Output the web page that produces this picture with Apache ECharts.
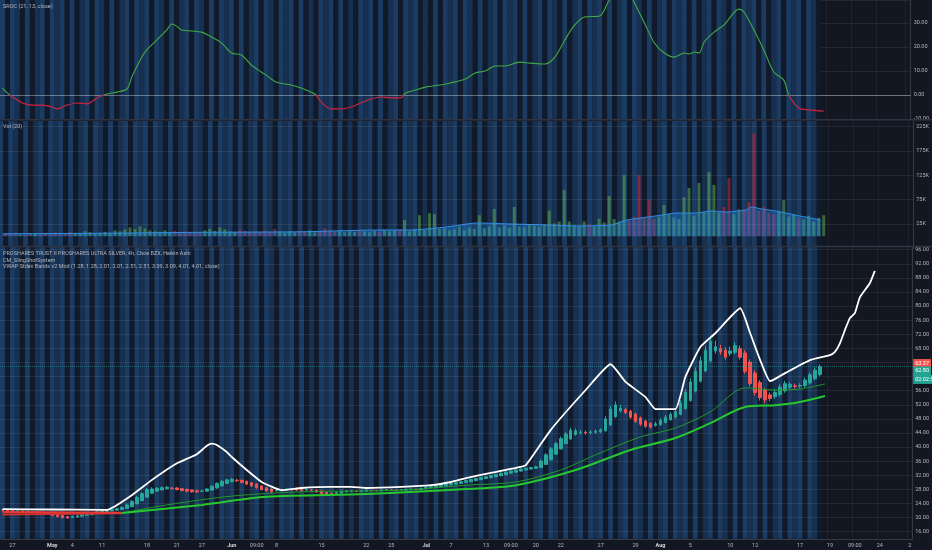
<!DOCTYPE html>
<html><head><meta charset="utf-8">
<script src="https://cdn.jsdelivr.net/npm/echarts@6/dist/echarts.min.js"></script>
<style>html,body{margin:0;padding:0;background:#131722}#c{width:932px;height:550px}</style>
</head><body><div id="c"></div>
<script>
// ---------- DATA ----------
const nCats = 183;             // bars incl. future space
const xLabels = [[2,'27'],[10,'May'],[14,'4'],[20,'11'],[29,'18'],[35,'21'],[40,'27'],[46,'Jun'],[51,'09:00'],[55,'8'],[64,'15'],[73,'22'],[78,'25'],[85,'Jul'],[90,'7'],[97,'13'],[102,'09:00'],[107,'20'],[112,'22'],[120,'27'],[127,'29'],[132,'Aug'],[138,'5'],[146,'10'],[151,'12'],[160,'17'],[166,'19'],[171,'09:00'],[176,'24'],[182,'2']];
const monthLabels = ['May','Jun','Jul','Aug'];
const priceTicks = [16,20,24,28,32,36,40,44,48,52,56,60,64,68,72,76,80,84,88,92,96];
const volTicks = [25,75,125,175,225];

// Heikin Ashi candles [open, close, low, high]
const candles = [
[22.1,22.0,21.8,22.3],[22.1,21.9,21.7,22.2],[22.0,21.8,21.6,22.1],[21.9,21.9,21.7,22.1],[21.9,21.7,21.5,22.0],
[21.8,21.6,21.4,21.9],[21.7,21.7,21.5,21.9],[21.7,21.5,21.3,21.8],[21.6,21.4,21.2,21.7],[21.5,21.0,20.8,21.6],
[21.3,20.6,20.4,21.4],[21.0,20.3,20.1,21.1],[20.6,20.0,19.8,20.7],[20.3,19.9,19.7,20.4],[20.1,20.3,19.9,20.5],
[20.2,20.5,20.0,20.7],[20.4,20.8,20.2,21.0],[20.6,21.1,20.5,21.3],[20.8,21.4,20.7,21.6],[21.1,21.7,21.0,21.9],
[21.4,21.9,21.3,22.1],[21.7,22.1,21.6,22.3],[21.9,22.3,21.8,22.5],[22.1,22.5,22.0,22.8],[22.3,22.9,22.2,23.2],
[22.6,23.6,22.5,24.0],[23.1,24.6,23.0,25.0],[23.9,25.7,23.8,26.2],[24.8,26.8,24.7,27.3],[25.8,27.9,25.7,28.4],
[26.9,28.1,26.8,28.6],[27.5,28.3,27.3,28.7],[27.9,28.5,27.7,28.9],[28.2,28.6,28.0,29.0],[28.4,28.3,28.0,28.7],
[28.4,28.0,27.7,28.6],[28.2,27.7,27.4,28.4],[28.0,27.5,27.2,28.2],[27.8,27.3,27.0,28.0],[27.6,27.3,27.0,27.8],
[27.5,27.5,27.2,27.9],[27.5,28.1,27.3,28.4],[27.8,28.9,27.6,29.2],[28.4,29.7,28.2,30.0],[29.0,30.3,28.8,30.6],
[29.7,30.7,29.5,31.0],[30.2,30.9,30.0,31.3],[30.6,30.5,30.1,31.0],[30.6,30.0,29.7,30.8],[30.3,29.5,29.2,30.5],
[29.9,29.0,28.7,30.1],[29.5,28.5,28.2,29.7],[29.0,28.0,27.7,29.2],[28.5,27.6,27.3,28.7],[28.1,27.3,27.0,28.3],
[27.7,27.7,27.3,28.0],[27.7,27.9,27.4,28.2],[27.8,28.0,27.5,28.3],[27.9,27.9,27.6,28.2],[27.9,27.8,27.5,28.1],
[27.9,27.7,27.4,28.1],[27.8,27.9,27.5,28.2],[27.8,27.8,27.5,28.1],[27.8,27.3,27.0,28.0],[27.6,26.8,26.5,27.7],
[27.2,26.5,26.1,27.3],[26.9,26.8,26.4,27.1],[26.9,27.2,26.6,27.4],[27.0,27.5,26.8,27.7],[27.3,27.6,27.1,27.8],
[27.4,27.5,27.2,27.7],[27.5,27.4,27.2,27.7],[27.4,27.6,27.2,27.8],[27.5,27.8,27.3,28.0],[27.7,27.7,27.5,27.9],
[27.7,27.6,27.4,27.9],[27.6,27.8,27.4,28.0],[27.7,27.9,27.5,28.1],[27.8,27.8,27.6,28.0],[27.8,27.7,27.5,28.0],
[27.8,27.9,27.6,28.1],[27.8,28.0,27.6,28.2],[27.9,28.1,27.7,28.3],[28.0,28.0,27.8,28.2],[28.0,28.3,27.8,28.5],
[28.2,28.6,28.0,28.8],[28.4,28.8,28.2,29.0],[28.6,29.0,28.4,29.2],[28.8,29.3,28.6,29.5],[29.0,29.5,28.8,29.7],
[29.3,29.7,29.1,29.9],[29.5,29.9,29.3,30.1],[29.7,30.2,29.5,30.4],[30.0,30.5,29.8,30.7],[30.2,30.8,30.0,31.0],
[30.5,31.1,30.3,31.3],[30.8,31.4,30.6,31.6],[31.1,31.6,30.9,31.8],[31.3,31.9,31.1,32.1],[31.6,32.2,31.4,32.4],
[31.9,32.6,31.7,32.8],[32.2,32.9,32.0,33.1],[32.6,33.2,32.4,33.4],[32.9,33.5,32.7,33.7],[33.2,33.8,33.0,34.0],
[33.5,34.0,33.3,34.2],[33.8,34.2,33.6,34.4],[34.0,34.4,33.8,34.7],[34.2,36.0,34.0,36.5],[35.1,37.8,34.9,38.3],
[36.4,39.5,36.2,40.0],[38.0,41.0,37.8,41.6],[39.5,42.4,39.3,43.0],[41.0,43.7,40.8,44.3],[42.3,44.8,42.1,45.5],
[43.6,44.6,43.2,45.3],[44.1,44.2,43.6,44.9],[44.2,44.0,43.5,44.7],[44.1,44.3,43.7,44.8],[44.2,44.5,43.8,45.0],
[44.4,44.9,44.0,45.4],[44.6,48.0,44.4,48.8],[46.3,50.8,46.0,51.6],[48.6,52.0,48.3,53.0],[50.3,51.0,49.8,52.0],
[50.7,49.8,49.3,51.2],[50.2,48.5,48.0,50.6],[49.4,47.3,46.8,49.8],[48.3,46.5,46.0,48.7],[47.4,45.9,45.4,47.8],
[46.7,45.7,45.2,47.1],[46.2,46.6,45.8,47.2],[46.4,47.6,46.0,48.2],[47.0,48.5,46.7,49.1],[47.8,49.3,47.5,49.9],
[48.5,50.0,48.2,50.7],[49.3,52.5,49.0,53.3],[50.9,55.5,50.6,56.4],[53.2,58.5,52.9,59.5],[55.9,61.5,55.5,62.6],
[58.7,64.5,58.3,65.7],[61.6,67.5,61.2,68.8],[64.5,70.0,64.0,71.3],[67.3,68.5,66.5,70.2],[67.9,67.0,66.2,69.0],
[67.5,65.5,64.8,68.3],[66.5,67.3,65.8,68.5],[66.9,68.8,66.3,69.8],[67.9,65.5,64.8,68.8],[66.7,61.5,60.8,67.5],
[64.1,58.0,57.2,64.9],[61.0,55.5,54.6,61.8],[58.3,54.0,53.2,59.0],[56.1,53.4,52.5,56.8],[54.8,53.8,53.0,55.5],
[54.3,55.5,53.7,56.3],[54.9,57.0,54.3,57.8],[56.0,58.0,55.4,58.8],[57.0,57.8,56.4,58.5],[57.4,57.2,56.6,58.0],
[57.3,57.5,56.7,58.1],[57.4,59.0,56.9,59.7],[58.2,60.5,57.7,61.2],[59.4,61.8,58.9,62.6],[60.6,62.8,60.1,63.5]
];

// volume per bar (K)
const volume = [
6,4,5,3,4,6,5,4,7,5, 8,6,5,9,7,6,10,8,6,7, 9,7,12,10,14,18,15,20,16,12,
10,9,12,8,11,9,10,8,7,9, 12,15,11,18,14,10,9,13,11,8, 10,9,12,8,15,9,7,10,8,11,
9,12,8,10,16,12,9,11,8,10, 9,12,10,8,11,9,13,10,12,14, 33,10,14,43,12,47,45,15,16,12,
14,20,12,18,15,43,16,20,56,18, 22,17,60,20,18,25,22,19,24,52, 26,30,95,30,22,20,30,24,20,36,
28,82,35,30,125,32,40,125,38,74, 36,40,64,45,38,35,80,99,42,109, 50,131,105,48,60,119,45,55,55,70,
211,52,60,48,45,50,74,40,45,38, 35,42,30,38,43
];
// volume moving average (20) [bar, K]
const volMA = [[0,5],[20,6],[40,8],[60,9],[75,12.7],[82,12.7],[89,18.9],[95,27],[102,25],[109,23],[115,21],[122,23],[125,33],[129,39],[132,43],[135,47.5],[139,47.5],[142,51.6],[145,49.6],[149,53.7],[150,60],[152,56],[155,51.6],[159,43],[162,37],[164,33]];

// SROC (21,13) [bar, value]
const sroc = [[0,2.9],[1,0.8],[2,-0.8],[4,-3.3],[6,-4.2],[8,-4.2],[10,-5],[11,-5.8],[13,-4.2],[15,-3.3],[17,-3.7],[19,-1.2],[21,0.4],[23,1.2],[25,2.5],[26,7.5],[28,15.8],[29,18.8],[31,22.9],[33,27.1],[34,29.6],[35,28.7],[36,27.1],[38,26.7],[40,26.2],[42,24.2],[44,21.7],[46,17.5],[48,16.7],[50,12.5],[52,9.6],[53,8.3],[55,5.4],[58,4.2],[60,2.9],[62,1.2],[63,0],[64,-2.9],[66,-5.8],[68,-5.8],[70,-5],[72,-3.3],[74,-1.7],[76,-0.8],[78,-1.2],[80,-1.2],[81,0.8],[83,2.1],[85,3.3],[88,4.2],[90,5],[93,6.7],[95,9.2],[97,10],[99,12.1],[101,12.1],[104,13.7],[106,13.3],[109,12.9],[111,15.8],[113,22.9],[115,29.2],[117,32.5],[120,32.9],[122,39.6],[124,42],[126,42],[127,38.3],[129,30],[131,21.7],[133,17.5],[135,15.8],[137,17.5],[138,17.1],[139,17.9],[140,17.5],[141,22.1],[143,26.2],[145,29.2],[148,35.8],[149,34.6],[151,27.1],[153,18.7],[155,9.6],[157,6.2],[158,0],[160,-5.4],[162,-6.2],[165,-6.7]];

// upper (white) band, projected forward
const upperBand = [[0,22.4],[10,22.3],[20,22.2],[21,22.2],[26,26.4],[30,30.7],[35,35.4],[39,38.0],[41,40.4],[42,41.0],[43,40.6],[45,38.6],[46,37.2],[49,33.5],[52,30.1],[56,27.8],[60,28.4],[66,28.7],[70,28.7],[73,28.4],[80,28.7],[86,29.2],[90,30.1],[93,31.2],[98,32.7],[103,34.1],[105,34.9],[110,44.9],[117,56.2],[122,63.5],[125,58.5],[129,54.2],[131,50.8],[135,50.8],[137,59.9],[140,68.4],[143,72.3],[148,79.4],[150,72.3],[152,64.7],[154,58.7],[157,61],[162,64.7],[166,66.1],[167,67],[168,69.4],[169,73.2],[170,76.6],[171,78],[172,82.5],[174,86.5],[175,90]];
// green VWAP bands
const lowerBand = [[24,21.3],[40,23.6],[53,25.9],[73,26.7],[93,28.1],[103,29.2],[115,33.5],[126,39.2],[135,42.6],[142,46.8],[149,51.4],[155,51.9],[160,52.8],[165,54.5]];
const midBand = [[24,21.3],[33,23.6],[46,26.1],[60,27.3],[80,27.8],[93,29.2],[103,30.1],[112,33.5],[119,37.8],[128,42.9],[135,45.4],[142,50],[149,56.8],[155,56.2],[160,56.5],[165,57.9]];
// red band segments before the cross
const redBandA = [[0,21.6],[24,21.4]];
const redBandB = [[0,20.9],[24,21.2]];

// background session stripes per bar (0 dark, 1 mid, 2 bright)
const stripes = "202102012021202012021020120212021020120210202120201202102120201021202010212020120212010202120210201202120201202102012021202012021020120212020120210202120201202120210";

// right-edge tags
const priceTags = [{value:63.7,text:'63.37',color:'#f05350'},{value:61.6,text:'62.80',color:'#22a394'},{value:59.2,text:'02:02:53',color:'#22a394'}];

// ---------- CHART ----------
const FONT = 'Roboto';
const TXT = '#b2b5be';
const cats = Array.from({length:nCats},(_,i)=>String(i));
const labelMap = {}; xLabels.forEach(([i,t])=>labelMap[i]=t);
const stripeColors = {'0':'#101a2b','1':'#17304f','2':'#1b3b62'};
const stripeData = candles.map((c,i)=>({value:1,itemStyle:{color:stripeColors[stripes[i]||'1']}}));
const lastClose = candles[candles.length-1][1];

const SROC_MIN = -10, SROC_MAX = 39.6;
const grids = [
  {left:0,right:18,top:0,height:119},
  {left:0,right:18,top:121,height:127.4},
  {left:0,right:18,top:247,height:291.75}
];
function xAx(g){
  return {type:'category',gridIndex:g,data:cats,boundaryGap:true,
    axisLine:{show:g===2,lineStyle:{color:'#363a45'}},axisTick:{show:false},
    axisLabel:{show:g===2,interval:(i)=>labelMap[i]!==undefined,formatter:(v)=>{const t=labelMap[+v];return monthLabels.includes(t)?'{b|'+t+'}':t;},
      color:TXT,fontSize:5.5,fontFamily:FONT,margin:4,rich:{b:{fontSize:5.5,fontWeight:'bold',color:'#d1d4dc',fontFamily:FONT}}},
    splitLine:{show:true,interval:(i)=>labelMap[i]!==undefined,lineStyle:{color:'rgba(255,255,255,0.05)',width:1}}};
}
const lbl = {color:TXT,fontSize:5.5,fontFamily:FONT,margin:3,showMaxLabel:false};
const yAxes = [
  {type:'value',gridIndex:0,position:'right',min:SROC_MIN,max:SROC_MAX,interval:10,
   axisLine:{show:true,lineStyle:{color:'#363a45'}},axisTick:{show:false},
   axisLabel:Object.assign({},lbl,{formatter:(v)=>v.toFixed(2)}),
   splitLine:{show:true,lineStyle:{color:'rgba(255,255,255,0.07)'}}},
  {type:'value',gridIndex:0,min:0,max:1,show:false},
  {type:'value',gridIndex:1,position:'right',min:-25,max:236,interval:25,
   axisLine:{show:true,lineStyle:{color:'#363a45'}},axisTick:{show:false},
   axisLabel:Object.assign({},lbl,{formatter:(v)=>volTicks.includes(v)?v+'K':''}),
   splitLine:{show:false}},
  {type:'value',gridIndex:1,min:0,max:1,show:false},
  {type:'value',gridIndex:2,position:'right',min:14,max:96.77,interval:2,
   axisLine:{show:true,lineStyle:{color:'#363a45'}},axisTick:{show:false},
   axisLabel:Object.assign({},lbl,{formatter:(v)=>priceTicks.includes(v)?v.toFixed(2):''}),
   splitLine:{show:false}},
  {type:'value',gridIndex:2,min:0,max:1,show:false}
];
function stripeSeries(g){
  return {type:'bar',xAxisIndex:g,yAxisIndex:g*2+1,data:stripeData,barCategoryGap:'0%',barWidth:'100%',silent:true,z:0,animation:false};
}
const gridLine = (vals)=>vals.map(v=>({yAxis:v,lineStyle:{color:'rgba(255,255,255,0.07)',width:1,type:'solid'},label:{show:false}}));

// SROC colour: green above zero, red below (gradient split at the zero line of the axis)
const zeroFrac = SROC_MAX/(SROC_MAX-SROC_MIN);
const srocColor = {type:'linear',x:0,y:grids[0].top,x2:0,y2:grids[0].top+grids[0].height,global:true,
  colorStops:[{offset:0,color:'#3fa845'},{offset:zeroFrac,color:'#3fa845'},{offset:zeroFrac,color:'#d0223f'},{offset:1,color:'#d0223f'}]};

const series = [
  stripeSeries(0), stripeSeries(1), stripeSeries(2),
  {type:'line',xAxisIndex:0,yAxisIndex:0,data:sroc,smooth:0.3,showSymbol:false,lineStyle:{width:1.1,color:srocColor},z:5,
   markLine:{silent:true,symbol:'none',animation:false,data:[{yAxis:0,lineStyle:{color:'rgba(255,255,255,0.35)',width:1,type:'solid'},label:{show:false}}]}},
  {type:'bar',xAxisIndex:1,yAxisIndex:2,data:volume,barWidth:3,z:3,
   itemStyle:{color:(p)=>{const c=candles[p.dataIndex];return c[1]>=c[0]?'rgba(90,170,80,0.55)':'rgba(200,40,60,0.55)';}},
   markLine:{silent:true,symbol:'none',animation:false,data:gridLine(volTicks)}},
  {type:'line',xAxisIndex:1,yAxisIndex:2,data:volMA,smooth:0.2,showSymbol:false,z:4,
   lineStyle:{color:'#2f8de4',width:1},areaStyle:{color:'rgba(33,140,235,0.5)'}},
  {type:'candlestick',xAxisIndex:2,yAxisIndex:4,data:candles,barWidth:3,z:4,
   itemStyle:{color:'#26a69a',color0:'#ef5350',borderColor:'#26a69a',borderColor0:'#ef5350',borderWidth:1},
   markLine:{silent:true,symbol:'none',animation:false,data:gridLine(priceTicks).concat([
     {yAxis:lastClose,lineStyle:{color:'rgba(38,166,154,0.55)',width:1,type:'dotted'},label:{show:false}}
   ])}},
  // right-edge price tags
  {type:'line',xAxisIndex:2,yAxisIndex:4,data:[],silent:true,
   markLine:{silent:true,symbol:'none',animation:false,
     data:priceTags.map(t=>({yAxis:t.value,lineStyle:{color:'rgba(0,0,0,0)',width:0.5},
       label:{show:true,position:'end',distance:1,formatter:t.text,backgroundColor:t.color,color:'#ffffff',
         padding:[1.5,2],fontSize:5.5,fontFamily:FONT}}))}},
  {type:'line',xAxisIndex:2,yAxisIndex:4,data:redBandB,showSymbol:false,lineStyle:{color:'#d32f2f',width:2},z:5},
  {type:'line',xAxisIndex:2,yAxisIndex:4,data:redBandA,showSymbol:false,lineStyle:{color:'#e53935',width:2},z:5},
  {type:'line',xAxisIndex:2,yAxisIndex:4,data:midBand,smooth:0.3,showSymbol:false,lineStyle:{color:'#1e9a2c',width:1},z:5},
  {type:'line',xAxisIndex:2,yAxisIndex:4,data:lowerBand,smooth:0.3,showSymbol:false,lineStyle:{color:'#27c82f',width:2},z:5},
  {type:'line',xAxisIndex:2,yAxisIndex:4,data:upperBand,smooth:0.15,showSymbol:false,lineStyle:{color:'#ffffff',width:1.8},z:6}
];

const tStyle = {color:TXT,fontSize:5.5,fontWeight:'normal',fontFamily:FONT};
const chart = echarts.init(document.getElementById('c'),null,{renderer:'canvas'});
chart.setOption({
  backgroundColor:'#131722',
  animation:false,
  textStyle:{fontFamily:FONT},
  title:[
    {text:'SROC (21, 13, close)',left:3,top:4,padding:0,textStyle:tStyle},
    {text:'Vol (20)',left:3,top:124,padding:0,textStyle:tStyle},
    {text:'PROSHARES TRUST II PROSHARES ULTRA SILVER, 4h, Cboe BZX, Heikin Ashi',left:3,top:251,padding:0,textStyle:tStyle},
    {text:'CM_SlingShotSystem',left:3,top:257.5,padding:0,textStyle:tStyle},
    {text:'VWAP Stdev Bands v2 Mod (1.28, 1.28, 2.01, 2.01, 2.51, 2.51, 3.09, 3.09, 4.01, 4.01, close)',left:3,top:264,padding:0,textStyle:tStyle}
  ],
  grid:grids,
  xAxis:[xAx(0),xAx(1),xAx(2)],
  yAxis:yAxes,
  graphic:[
    {type:'line',shape:{x1:0,y1:119.8,x2:932,y2:119.8},style:{stroke:'#2f3440',lineWidth:1.5},z:100},
    {type:'line',shape:{x1:0,y1:246.6,x2:932,y2:246.6},style:{stroke:'#2f3440',lineWidth:1.5},z:100}
  ],
  series:series
});
</script></body></html>
